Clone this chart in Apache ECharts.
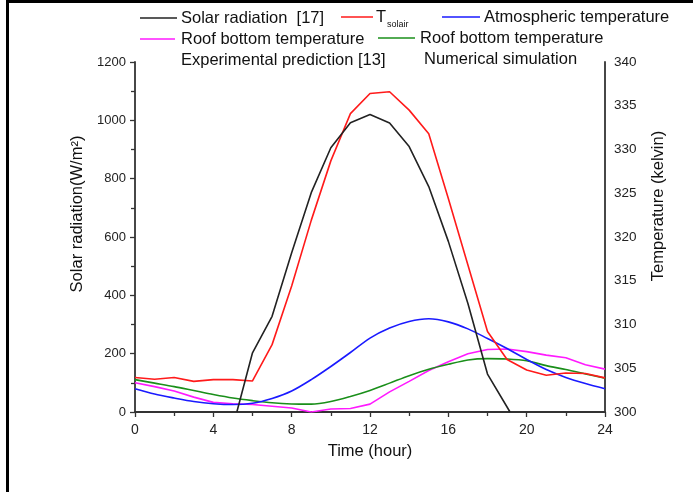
<!DOCTYPE html>
<html>
<head>
<meta charset="utf-8">
<script src="https://cdn.jsdelivr.net/npm/echarts@6/dist/echarts.min.js"></script>
<style>html,body{margin:0;padding:0;background:#fff}#c{width:693px;height:492px}</style>
</head>
<body>
<div id="c"></div>
<script>
var hours = [0,1,2,3,4,5,6,7,8,9,10,11,12,13,14,15,16,17,18,19,20,21,22,23,24];
var solarHours = [5.2,6,7,8,9,10,11,12,13,14,15,16,17,18,19.15];
var solarRadiation = [0,203,328,546,752,906,992,1020,991,910,773,585,372,130,0];
var tSolair = [303.95,303.75,303.95,303.5,303.7,303.7,303.55,307.7,314.4,321.9,328.7,334.1,336.4,336.6,334.5,331.8,324.4,316.8,309.2,306.0,304.8,304.2,304.45,304.4,303.9];
var atmTemp = [302.65,302.05,301.6,301.2,300.95,300.85,301.0,301.55,302.4,303.7,305.2,306.8,308.45,309.6,310.35,310.65,310.3,309.5,308.4,307.25,306.0,304.85,303.95,303.25,302.65];
var roofExp = [303.35,302.9,302.4,301.7,301.1,300.95,300.85,300.65,300.45,300.0,300.35,300.4,300.9,302.3,303.5,304.75,305.75,306.65,307.15,307.2,306.9,306.5,306.2,305.4,304.9];
var roofNum = [303.7,303.3,302.9,302.45,302.0,301.6,301.3,301.05,300.92,300.9,301.2,301.78,302.47,303.3,304.15,304.88,305.45,305.95,306.1,306.05,305.85,305.3,304.85,304.35,303.85];
var xTicks = {min:0, max:24, interval:4};
var leftTicks = {min:0, max:1200, interval:200};
var rightTicks = {min:300, max:340, interval:5};

function pairs(xs, ys){ return xs.map(function(x,i){return [x, ys[i]];}); }
function plain(v){ return String(v); }

var font = 'Liberation Sans, Arial, sans-serif';
var chart = echarts.init(document.getElementById('c'), null, {renderer:'canvas'});
var axisCommon = {
  splitLine:{show:false},
  axisLine:{show:true, lineStyle:{color:'#333', width:1.8}},
  axisTick:{show:true, length:5, lineStyle:{color:'#333', width:1.3}},
  minorTick:{show:true, splitNumber:2, length:4, lineStyle:{color:'#333', width:1.3}}
};
function legendLine(x1,x2,y,color){
  return {type:'line', shape:{x1:x1,y1:y,x2:x2,y2:y}, style:{stroke:color, lineWidth:1.5}};
}
function txt(x,y,t,size){
  return {type:'text', x:x, y:y, style:{text:t, fill:'#111', font:(size||16.5)+'px '+font, textAlign:'left', textVerticalAlign:'middle'}};
}
chart.setOption({
  animation:false,
  backgroundColor:'#fff',
  grid:{left:135, right:88, top:62, bottom:80, containLabel:false},
  xAxis:Object.assign({}, axisCommon, {type:'value', min:xTicks.min, max:xTicks.max, interval:xTicks.interval,
    axisLabel:{color:'#222', fontFamily:font, fontSize:14, margin:11, formatter:plain}}),
  yAxis:[
    Object.assign({}, axisCommon, {type:'value', min:leftTicks.min, max:leftTicks.max, interval:leftTicks.interval,
      axisLabel:{color:'#222', fontFamily:font, fontSize:13, margin:9, formatter:plain}}),
    Object.assign({}, axisCommon, {type:'value', position:'right', min:rightTicks.min, max:rightTicks.max, interval:rightTicks.interval,
      axisTick:{show:false}, minorTick:{show:false},
      axisLabel:{color:'#222', fontFamily:font, fontSize:13.5, margin:9, formatter:plain}})
  ],
  series:[
    {name:'Solar radiation [17]', type:'line', yAxisIndex:0, symbol:'none', data:pairs(solarHours, solarRadiation), lineStyle:{color:'#222', width:1.6}, z:5},
    {name:'T solair', type:'line', yAxisIndex:1, symbol:'none', data:pairs(hours, tSolair), lineStyle:{color:'#ff1a1a', width:1.6}, z:4},
    {name:'Atmospheric temperature', type:'line', yAxisIndex:1, symbol:'none', smooth:0.3, data:pairs(hours, atmTemp), lineStyle:{color:'#1a1aff', width:1.6}, z:3},
    {name:'Roof bottom temperature Experimental prediction [13]', type:'line', yAxisIndex:1, symbol:'none', data:pairs(hours, roofExp), lineStyle:{color:'#ff1aff', width:1.6}, z:2},
    {name:'Roof bottom temperature Numerical simulation', type:'line', yAxisIndex:1, symbol:'none', smooth:0.3, data:pairs(hours, roofNum), lineStyle:{color:'#1a8f1a', width:1.6}, z:2}
  ],
  graphic:[
    {type:'rect', shape:{x:6, y:0, width:3, height:492}, style:{fill:'#000'}},
    {type:'rect', shape:{x:6, y:0, width:687, height:3}, style:{fill:'#000'}},
    legendLine(140,177,18,'#222'), txt(181,18,'Solar radiation  [17]'),
    legendLine(341,373,17,'#ff1a1a'), txt(376,17,'T'),
    {type:'text', x:387, y:25, style:{text:'solair', fill:'#111', font:'9px '+font, textAlign:'left', textVerticalAlign:'middle'}},
    legendLine(442,480,17,'#1a1aff'), txt(484,17,'Atmospheric temperature'),
    legendLine(140,175,39,'#ff1aff'), txt(181,39,'Roof bottom temperature'),
    legendLine(378,415,38,'#1a8f1a'), txt(420,38,'Roof bottom temperature'),
    txt(181,60,'Experimental prediction [13]'),
    txt(424,59,'Numerical simulation'),
    {type:'text', x:77, y:214, rotation:Math.PI/2, style:{text:'Solar radiation(W/m²)', fill:'#111', font:'16.5px '+font, textAlign:'center', textVerticalAlign:'middle'}},
    {type:'text', x:658, y:206, rotation:Math.PI/2, style:{text:'Temperature (kelvin)', fill:'#111', font:'16.5px '+font, textAlign:'center', textVerticalAlign:'middle'}},
    {type:'text', x:370, y:451, style:{text:'Time (hour)', fill:'#111', font:'16.5px '+font, textAlign:'center', textVerticalAlign:'middle'}}
  ]
});
</script>
</body>
</html>
